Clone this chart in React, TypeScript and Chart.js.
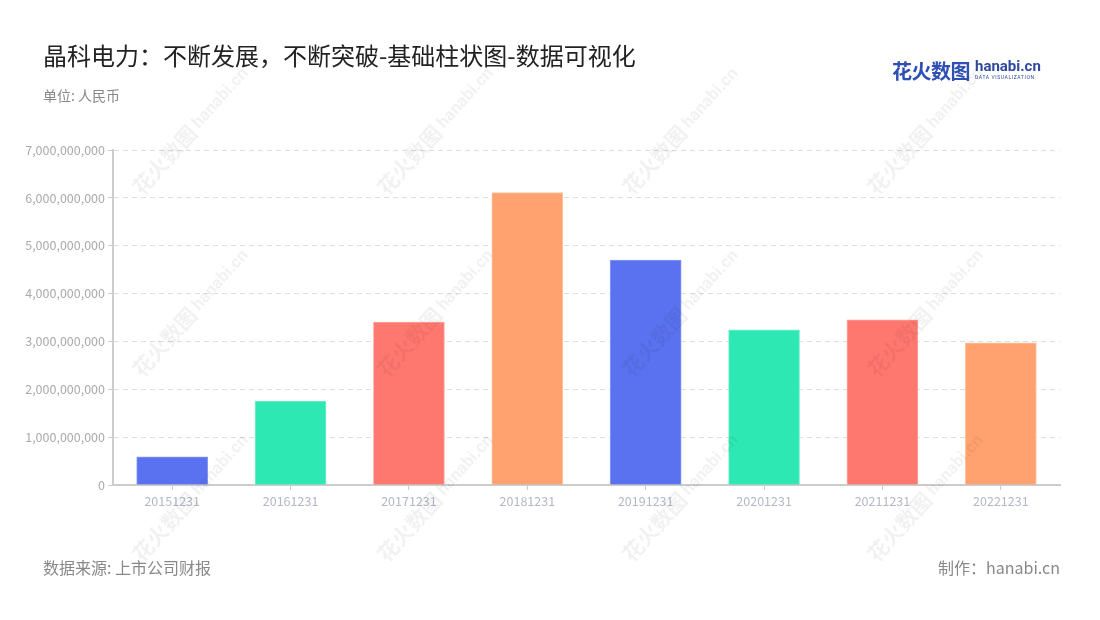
import React, { useEffect, useRef } from "react";
import { Chart, registerables } from "chart.js";

Chart.register(...registerables);

const categories = ["20151231", "20161231", "20171231", "20181231", "20191231", "20201231", "20211231", "20221231"];
const values = [590000000, 1755000000, 3405000000, 6110000000, 4700000000, 3240000000, 3450000000, 2970000000];
const barColors = ["#5A72F0", "#2EE8B4", "#FF7870", "#FFA26F", "#5A72F0", "#2EE8B4", "#FF7870", "#FFA26F"];
const borderColors = ["#8898F5", "#7AF0CC", "#FFA8A2", "#FFC4A2", "#8898F5", "#7AF0CC", "#FFA8A2", "#FFC4A2"];
const yTicks = [0, 1000000000, 2000000000, 3000000000, 4000000000, 5000000000, 6000000000, 7000000000];

const titleText = "晶科电力：不断发展，不断突破-基础柱状图-数据可视化";
const unitText = "单位: 人民币";
const sourceText = "数据来源: 上市公司财报";
const makerText = "制作：hanabi.cn";

const FONT = "'Noto Sans CJK SC', 'Noto Sans', sans-serif";

const wmCols = [190, 435, 680, 925];
const wmRows = [130, 312, 497];

export default function App() {
  const ref = useRef<HTMLCanvasElement | null>(null);

  useEffect(() => {
    if (!ref.current) return;
    const chart = new Chart(ref.current, {
      type: "bar",
      data: {
        labels: categories,
        datasets: [
          {
            data: values,
            backgroundColor: barColors,
            borderColor: borderColors,
            borderWidth: 1,
            barThickness: 71,
          },
        ],
      },
      options: {
        animation: false,
        responsive: false,
        maintainAspectRatio: false,
        layout: { padding: { left: 0, right: 40, top: 150, bottom: 100 } },
        plugins: { legend: { display: false }, tooltip: { enabled: false }, title: { display: false } },
        scales: {
          x: {
            afterFit: (s: any) => {
              s.height = 35;
            },
            grid: {
              display: true,
              drawOnChartArea: false,
              drawTicks: true,
              tickLength: 5,
              offset: false,
              tickColor: "#cccccc",
            },
            border: { display: true, color: "#cccccc", width: 2 },
            ticks: {
              color: "#b4b7c6",
              font: { family: FONT, size: 12.5 },
              padding: 4,
              maxRotation: 0,
            },
          },
          y: {
            min: 0,
            max: 7000000000,
            afterFit: (s: any) => {
              s.width = 113;
            },
            afterBuildTicks: (s: any) => {
              s.ticks = yTicks.map((v) => ({ value: v }));
            },
            grid: {
              color: "#dddddd",
              tickColor: "#cccccc",
              tickLength: 5,
              lineWidth: 1,
            },
            border: { display: true, color: "#cccccc", width: 2, dash: [5, 4] },
            ticks: {
              color: "#aaaaaa",
              font: { family: FONT, size: 12.5 },
              padding: 3,
              callback: (v: any) => Number(v).toLocaleString("en-US"),
            },
          },
        },
      },
    });
    return () => chart.destroy();
  }, []);

  return (
    <div style={{ position: "absolute", left: 0, top: 0, width: 1100, height: 620, background: "#fff", fontFamily: FONT, overflow: "hidden" }}>
      <canvas ref={ref} width={1100} height={620} style={{ position: "absolute", left: 0, top: 0, width: 1100, height: 620 }} />
      <div style={{ position: "absolute", left: 43, top: 38, fontSize: 24, color: "#222", whiteSpace: "nowrap", lineHeight: "34px" }}>{titleText}</div>
      <div style={{ position: "absolute", left: 43, top: 86, fontSize: 14, color: "#888", whiteSpace: "nowrap", lineHeight: "18px" }}>{unitText}</div>
      <div style={{ position: "absolute", left: 43, top: 556, fontSize: 16, color: "#888", whiteSpace: "nowrap", lineHeight: "22px" }}>{sourceText}</div>
      <div style={{ position: "absolute", right: 40, top: 556, fontSize: 16, color: "#888", whiteSpace: "nowrap", lineHeight: "22px" }}>{makerText}</div>
      <div style={{ position: "absolute", left: 892, top: 58, display: "flex", alignItems: "flex-end", whiteSpace: "nowrap" }}>
        <span style={{ fontSize: 20, fontWeight: 700, color: "#2E4FB3", lineHeight: "26px", letterSpacing: -0.5 }}>花火数图</span>
        <span style={{ display: "flex", flexDirection: "column", marginLeft: 5, marginBottom: 3 }}>
          <span style={{ fontSize: 15, fontWeight: 700, color: "#2E4A9E", lineHeight: "15px", fontFamily: "Roboto, sans-serif" }}>hanabi.cn</span>
          <span style={{ fontSize: 5, color: "#2E4A9E", lineHeight: "7px", letterSpacing: 0.6, fontFamily: "Roboto, sans-serif" }}>DATA VISUALIZATION</span>
        </span>
      </div>
      {wmRows.map((y) =>
        wmCols.map((x) => (
          <div
            key={`${x}-${y}`}
            style={{
              position: "absolute",
              left: x - 90,
              top: y - 14,
              width: 180,
              height: 28,
              display: "flex",
              alignItems: "center",
              justifyContent: "center",
              transform: "rotate(-48deg)",
              color: "rgba(0,0,0,0.055)",
              whiteSpace: "nowrap",
              pointerEvents: "none",
            }}
          >
            <span style={{ fontSize: 21, fontWeight: 700 }}>花火数图</span>
            <span style={{ fontSize: 17, fontWeight: 700, marginLeft: 4, fontFamily: "Roboto, sans-serif" }}>hanabi.cn</span>
          </div>
        ))
      )}
    </div>
  );
}
